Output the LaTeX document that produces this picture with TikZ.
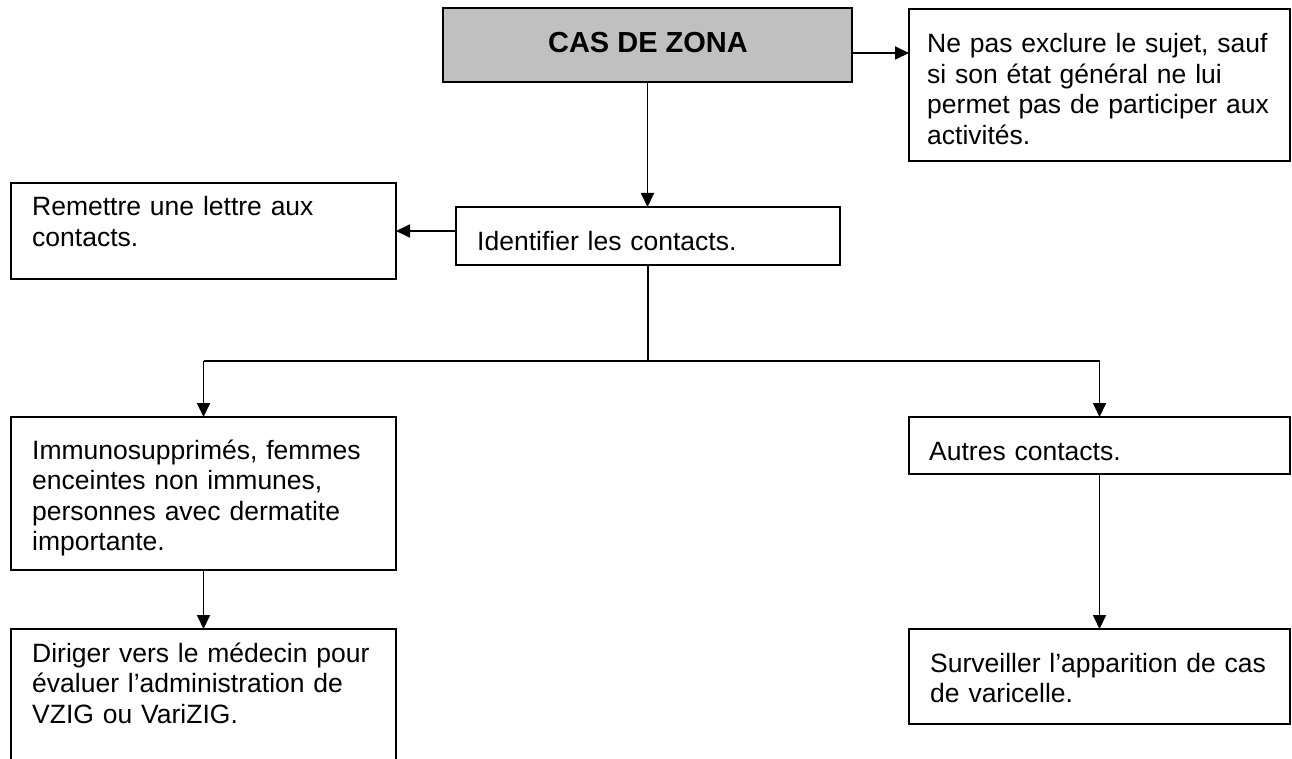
\documentclass[tikz,border=0pt]{standalone}
\usepackage{fontspec}
\setmainfont{Liberation Sans}
\usetikzlibrary{arrows.meta}
\begin{document}
\begin{tikzpicture}[x=1pt,y=-1pt,
 box/.style={draw, line width=1.8pt, anchor=north west, inner sep=0pt, outer sep=0pt},
 txt/.style={anchor=base west, inner sep=0pt, text width=370pt, align=left, font=\fontsize{26.5}{30.5}\selectfont},
 arr/.style={line width=1.8pt, -{Triangle[length=14pt,width=13pt]}},
 ln/.style={line width=1.8pt}]
\useasboundingbox (0,0) rectangle (1292,759);
\fill[white] (0,0) rectangle (1292,759);
% boxes
\node[box, fill={rgb,255:red,192;green,192;blue,192}, minimum width=409pt, minimum height=74pt] (cas) at (443,8) {};
\node[box, minimum width=381pt, minimum height=152pt] (ne) at (909,9) {};
\node[box, minimum width=384pt, minimum height=58pt] (id) at (456,207) {};
\node[box, minimum width=385pt, minimum height=96pt] (rem) at (11,183) {};
\node[box, minimum width=385pt, minimum height=153pt] (imm) at (11,417) {};
\node[box, minimum width=381pt, minimum height=57pt] (aut) at (909,417) {};
\node[box, minimum width=385pt, minimum height=131pt] (dir) at (11,629) {};
\node[box, minimum width=381pt, minimum height=95pt] (sur) at (909,629) {};
% texts
\node[anchor=base, inner sep=0pt, font=\bfseries\fontsize{29}{33}\selectfont] (tcas) at (648,53) {CAS DE ZONA};
\node[txt] (tne) at (927,53) {Ne pas exclure le sujet, sauf\\si son état général ne lui\\permet pas de participer aux\\activités.};
\node[txt] (tid) at (477,251) {Identifier les contacts.};
\node[txt] (trem) at (32,216) {Remettre une lettre aux\\contacts.};
\node[txt] (timm) at (32,459) {Immunosupprimés, femmes\\enceintes non immunes,\\personnes avec dermatite\\importante.};
\node[txt] (taut) at (929,460) {Autres contacts.};
\node[txt] (tdir) at (32,662) {Diriger vers le médecin pour\\évaluer l’administration de\\VZIG ou VariZIG.};
\node[txt] (tsur) at (930,672) {Surveiller l’apparition de cas\\de varicelle.};
% connectors
\draw[arr] ([yshift=-8pt]cas.east) -- ([yshift=-8pt]cas.east -| ne.west);
\draw[arr] (cas.south) -- (cas.south |- id.north);
\draw[arr] (rem.east -| id.west) -- (rem.east);
\coordinate (split) at ([yshift=-96pt]id.south);
\draw[ln] (id.south) -- (split);
\draw[ln] (split -| imm.north) -- (split -| aut.north);
\draw[arr] (split -| imm.north) -- (imm.north);
\draw[arr] (split -| aut.north) -- (aut.north);
\draw[arr] (imm.south) -- (dir.north);
\draw[arr] (aut.south) -- (sur.north);
\end{tikzpicture}
\end{document}
